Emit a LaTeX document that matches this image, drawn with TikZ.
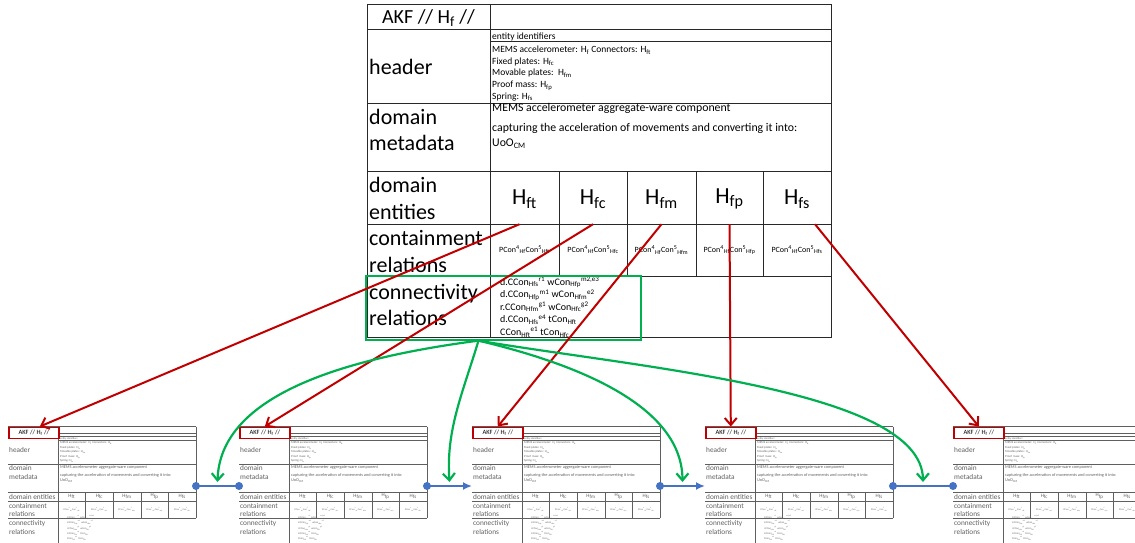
\documentclass[tikz,border=0pt]{standalone}
\usepackage{fontspec}
\setmainfont{Carlito}
\usepackage{tikz}
\usetikzlibrary{arrows.meta, positioning}
\usepackage{xcolor}
\definecolor{rulegray}{RGB}{40,40,40}
\definecolor{minigray}{RGB}{95,95,95}
\definecolor{akfred}{RGB}{192,0,0}
\definecolor{akfgreen}{RGB}{0,176,80}
\definecolor{akfblue}{RGB}{68,114,196}

\begin{document}
\begin{tikzpicture}[x=1pt, y=-1pt,
    grid/.style={draw=rulegray, line width=1pt},
    mini/.style={draw=minigray, line width=0.6pt},
    rowlabel/.style={anchor=west, align=left, inner sep=0pt, font=\fontsize{22}{26.5}\selectfont},
    entity/.style={inner sep=0pt, minimum height=50pt, font=\fontsize{23}{27}\selectfont},
    celltext/.style={anchor=west, align=left, inner sep=0pt, font=\fontsize{9.5}{11.7}\selectfont},
    redbox/.style={draw=akfred, line width=1.6pt, inner sep=0pt, minimum width=50pt, minimum height=11pt, font=\fontsize{6.5}{7}\selectfont},
    minilabel/.style={anchor=west, align=left, inner sep=0pt, text=minigray, font=\fontsize{7.3}{9}\selectfont},
    minitext/.style={anchor=west, align=left, inner sep=0pt, text=minigray},
    redarrow/.style={draw=akfred, line width=2pt, -{Straight Barb[length=7pt, width=12pt]}},
    greenarrow/.style={draw=akfgreen, line width=2.2pt, -{Straight Barb[length=7pt, width=12pt]}},
    blueline/.style={draw=akfblue, line width=2pt}
  ]
\useasboundingbox (0,0) rectangle (1135,543);
\clip (0,0) rectangle (1135,543);

% main AKF table
\draw[grid] (367,5) rectangle (831,337);
\draw[grid] (490,5) -- (490,337);
\draw[grid] (367,30) -- (831,30) (490,42) -- (831,42) (367,103) -- (831,103)
  (367,171) -- (831,171) (367,224) -- (831,224) (367,276) -- (831,276);
\foreach \x in {559,627,696,763} \draw[grid] (\x,171) -- (\x,276);

\node[rowlabel, anchor=center, font=\fontsize{20}{24}\selectfont] (akf) at (428.5,18) {AKF // H\textsubscript{f} //};
\node[rowlabel] (hdr) at (369,67) {header};
\node[rowlabel] (meta) at (369,130) {domain\\metadata};
\node[rowlabel] (ents) at (369,198.5) {domain\\entities};
\node[rowlabel] (cont) at (369,251.5) {containment\\relations};
\node[rowlabel] (conn) at (369,305) {connectivity\\relations};

\node[celltext] (ids) at (492,36.5) {entity identifiers};
\node[celltext] (hdrlist) at (492,73.5) {MEMS accelerometer: H\textsubscript{f} Connectors: H\textsubscript{ft}\\
  Fixed plates: H\textsubscript{fc}\\
  Movable plates:\ \ H\textsubscript{fm}\\
  Proof mass: H\textsubscript{fp}\\
  Spring: H\textsubscript{fs}};
\node[celltext, anchor=north west, font=\fontsize{11.8}{15}\selectfont] (metatext) at (492,103.5)
  {MEMS accelerometer aggregate-ware component\\[5pt]
   capturing the acceleration of movements and converting it into:\\
   UoO\textsubscript{CM}};

\foreach \e/\x in {ft/524.5, fc/593, fm/661.5, fp/729.5, fs/797} {
  \node[entity] (h\e) at (\x,199) {H\textsubscript{\e}};
  \node[inner sep=0pt, font=\fontsize{8}{9}\selectfont] (c\e) at (\x,250)
    {PCon\textsuperscript{4}\textsubscript{Hf}Con\textsuperscript{5}\textsubscript{H\e}};
}

\node[celltext, font=\fontsize{10}{12.6}\selectfont] (conntext) at (500,307)
  {d.CCon\textsubscript{Hfs}\textsuperscript{r1} wCon\textsubscript{Hfp}\textsuperscript{m2,e3}\\
   d.CCon\textsubscript{Hfp}\textsuperscript{m1} wCon\textsubscript{Hfm}\textsuperscript{e2}\\
   r.CCon\textsubscript{Hfm}\textsuperscript{g1} wCon\textsubscript{Hfc}\textsuperscript{g2}\\
   d.CCon\textsubscript{Hfs}\textsuperscript{e4} tCon\textsubscript{Hft}\\
   CCon\textsubscript{Hft}\textsuperscript{e1} tCon\textsubscript{Hfc}};

\node[draw=akfgreen, line width=1.3pt, inner sep=0pt, minimum width=275pt, minimum height=64pt] (conbox) at (503.5,308) {};

% five small copies
\foreach \i/\tx in {1/8, 2/239, 3/472, 4/705, 5/953} {
  \begin{scope}[shift={(\tx,0)}]
    \draw[mini] (0,426.5) -- (188,426.5) (50,433) -- (188,433) (50,436.5) -- (188,436.5)
      (50,440.5) -- (188,440.5) (0,464) -- (188,464) (0,492) -- (188,492)
      (0,501) -- (188,501) (0,518) -- (188,518)
      (50,426.5) -- (50,545) (188,426.5) -- (188,518);
    \foreach \k in {1,...,4} \draw[mini] (50+27.6*\k,492) -- (50+27.6*\k,518);
    \node[redbox, anchor=north west] (t\i) at (0,426.5) {AKF // H\textsubscript{f} //};
    \node[minilabel] (t\i-hdr) at (1,450) {header};
    \node[minilabel] (t\i-meta) at (1,472.5) {domain\\metadata};
    \node[minilabel] (t\i-ents) at (1,496.5) {domain entities};
    \node[minilabel, font=\fontsize{7.3}{8.5}\selectfont] (t\i-cont) at (1,510) {containment\\relations};
    \node[minilabel] (t\i-conn) at (1,527.5) {connectivity\\relations};
    \node[minitext, font=\fontsize{2.6}{3}\selectfont] (t\i-ids) at (52,438.5) {entity identifiers};
    \node[minitext, font=\fontsize{3}{4.5}\selectfont] (t\i-list) at (52,452)
      {MEMS accelerometer:\ \ H\textsubscript{f} Connectors:\ \ H\textsubscript{ft}\\
       Fixed plates:\ \ H\textsubscript{fc}\\
       Movable plates:\ \ H\textsubscript{fm}\\
       Proof\ \ mass: H\textsubscript{fp}\\
       Spring: H\textsubscript{fs}};
    \node[minitext, anchor=north west, font=\fontsize{4.3}{5.5}\selectfont] (t\i-mtext) at (52,465)
      {MEMS accelerometer aggregate-ware component\\[2.5pt]
       capturing the acceleration of movements and converting it into:\\
       UoO\textsubscript{CM}};
    \foreach \e [count=\k] in {ft,fc,fm,fp,fs} {
      \node[inner sep=0pt, text=minigray, font=\fontsize{5}{6}\selectfont] (t\i-h\e) at (36.2+27.6*\k,496.5) {H\textsubscript{\e}};
      \node[inner sep=0pt, text=minigray, font=\fontsize{2.4}{3}\selectfont] (t\i-c\e) at (36.2+27.6*\k,509.5)
        {PCon\textsuperscript{4}\textsubscript{Hf}Con\textsuperscript{5}\textsubscript{H\e}};
    }
    \node[minitext, font=\fontsize{2.6}{3.5}\selectfont] (t\i-ctext) at (59,528)
      {d.CCon\textsubscript{Hfs}\textsuperscript{r1} wCon\textsubscript{Hfp}\textsuperscript{m2,e3}\\
       d.CCon\textsubscript{Hfp}\textsuperscript{m1} wCon\textsubscript{Hfm}\textsuperscript{e2}\\
       r.CCon\textsubscript{Hfm}\textsuperscript{g1} wCon\textsubscript{Hfc}\textsuperscript{g2}\\
       d.CCon\textsubscript{Hfs}\textsuperscript{e4} tCon\textsubscript{Hft}\\
       CCon\textsubscript{Hft}\textsuperscript{e1} tCon\textsubscript{Hfc}};
    \coordinate (w\i) at (0,486);
    \coordinate (e\i) at (188,486);
  \end{scope}
}

% blue links between the copies
\draw[blueline] (e1) -- coordinate (m1) (w2);
\draw[blueline, -{Latex[length=9pt, width=8pt]}] (e2) -- coordinate (m2) (w3);
\draw[blueline, -{Latex[length=9pt, width=8pt]}] (e3) -- coordinate (m3) (w4);
\draw[blueline] (e4) -- coordinate (m4) (w5);
\foreach \p in {e1,w2,e2,e3,e4,w5} \fill[akfblue] (\p) circle (4pt);

% red: entity to copy
\draw[redarrow] ([xshift=-5pt]hft.south) -- ([xshift=6pt]t1.north);
\draw[redarrow] (hfc.south) -- (t2.north);
\draw[redarrow] (hfm.south) -- (t3.north);
\draw[redarrow] (hfp.south) -- (t4.north);
\draw[redarrow] ([xshift=18pt]hfs.south) -- (t5.north);

% green: connectivity to links
\coordinate (gsrc) at ([xshift=-25pt]conbox.south);
\draw[greenarrow] (gsrc) .. controls (330,360) and (220,400) .. ([yshift=4pt]m1);
\draw[greenarrow] (gsrc) .. controls (462,395) and (446,430) .. ([yshift=4pt]m2);
\draw[greenarrow] (gsrc) .. controls (560,360) and (682,400) .. ([yshift=4pt]m3);
\draw[greenarrow] (gsrc) .. controls (640,368) and (922,390) .. ([yshift=4pt]m4);
\end{tikzpicture}
\end{document}
